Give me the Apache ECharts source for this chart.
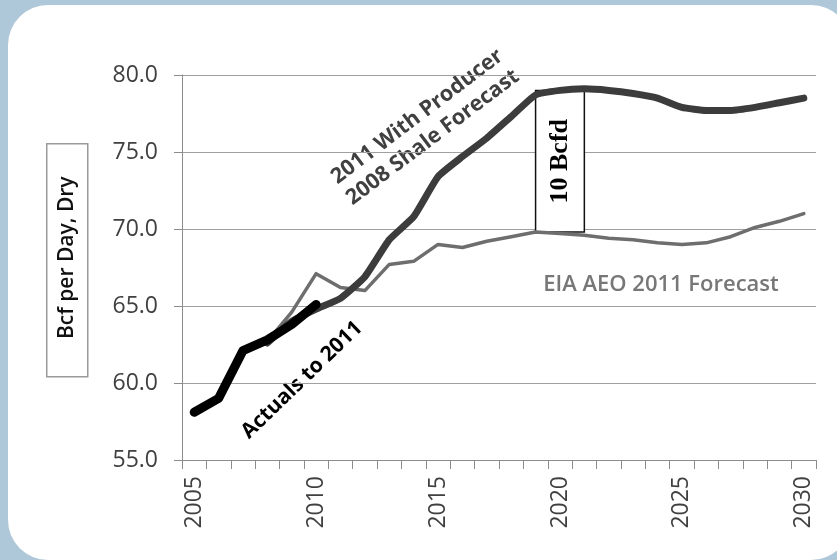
<!DOCTYPE html>
<html>
<head>
<meta charset="utf-8">
<script src="https://cdn.jsdelivr.net/npm/echarts@6/dist/echarts.min.js"></script>
<style>
  html, body { margin: 0; padding: 0; background: #afc8d9; }
  #wrap { position: relative; width: 837px; height: 560px; overflow: hidden; }
  #panel { position: absolute; left: 8px; top: 5px; width: 843px; height: 555px; background: #fff; border-radius: 40px; }
  #main { position: absolute; left: 0; top: 0; width: 837px; height: 560px; }
</style>
</head>
<body>
<div id="wrap">
  <div id="panel"></div>
  <div id="main"></div>
</div>
<script>
// years on the x axis
var years = ["2005", "2006", "2007", "2008", "2009", "2010", "2011", "2012", "2013",
  "2014", "2015", "2016", "2017", "2018", "2019", "2020", "2021", "2022", "2023",
  "2024", "2025", "2026", "2027", "2028", "2029", "2030"];

// Bcf per day, dry
var actuals = [58.1, 59.0, 62.1, 62.8, 63.8, 65.1, null, null, null, null, null, null, null,
  null, null, null, null, null, null, null, null, null, null, null, null, null];
var shaleForecast = [null, null, null, 62.6, 64.0, 64.8, 65.5, 66.9, 69.3, 70.8, 73.4, 74.7,
  75.9, 77.3, 78.7, 79.0, 79.1, 79.0, 78.8, 78.5, 77.9, 77.7, 77.7, 77.9, 78.2, 78.5];
var eiaForecast = [null, null, null, 62.7, 64.6, 67.1, 66.2, 66.0, 67.7, 67.9, 69.0, 68.8,
  69.2, 69.5, 69.8, 69.7, 69.6, 69.4, 69.3, 69.1, 69.0, 69.1, 69.5, 70.1, 70.5, 71.0];

// the "10 Bcfd" gap box
var gapYears = ["2019", "2021"];
var gapRange = [69.8, 79.0];

var yTicks = { min: 55, max: 80, step: 5 };

var chart = echarts.init(document.getElementById("main"));
var font = "'Open Sans', 'Liberation Sans', sans-serif";

var option = {
  backgroundColor: "transparent",
  animation: false,
  grid: { left: 182, right: 21, top: 75, bottom: 100 },
  xAxis: {
    type: "category",
    data: years,
    boundaryGap: true,
    axisLine: { lineStyle: { color: "#8c8c8c", width: 1 } },
    axisTick: { show: true, interval: 0, length: 9, lineStyle: { color: "#8c8c8c" } },
    axisLabel: {
      interval: 4,
      rotate: 90,
      margin: 16,
      color: "#404040",
      fontSize: 23,
      fontFamily: font
    },
    splitLine: { show: false }
  },
  yAxis: {
    type: "value",
    min: yTicks.min,
    max: yTicks.max,
    interval: yTicks.step,
    axisLine: { show: true, lineStyle: { color: "#8c8c8c", width: 1 } },
    axisTick: { show: true, length: 8, lineStyle: { color: "#8c8c8c" } },
    axisLabel: {
      margin: 24,
      color: "#404040",
      fontSize: 23,
      fontFamily: font,
      formatter: function (v) { return v.toFixed(1); }
    },
    splitLine: { lineStyle: { color: "#a0a0a0", width: 1 } }
  },
  series: [
    {
      name: "EIA AEO 2011 Forecast",
      type: "line",
      data: eiaForecast,
      showSymbol: false,
      lineStyle: { color: "#6e6e6e", width: 3.5, cap: "round", join: "round" },
      z: 2
    },
    {
      name: "2011 With Producer 2008 Shale Forecast",
      type: "line",
      data: shaleForecast,
      showSymbol: false,
      smooth: 0.15,
      lineStyle: { color: "#3c3c3c", width: 7, cap: "round", join: "round" },
      markArea: {
        silent: true,
        itemStyle: { color: "#fff", borderColor: "#111", borderWidth: 1.5 },
        label: {
          show: true,
          position: "inside",
          rotate: 90,
          color: "#000",
          fontSize: 26,
          fontWeight: "bold",
          fontFamily: "'Liberation Serif', 'DejaVu Serif', serif",
          formatter: "10 Bcfd"
        },
        data: [[
          { xAxis: gapYears[0], yAxis: gapRange[0] },
          { xAxis: gapYears[1], yAxis: gapRange[1] }
        ]]
      },
      z: 3
    },
    {
      name: "Actuals to 2011",
      type: "line",
      data: actuals,
      showSymbol: false,
      lineStyle: { color: "#000", width: 9, cap: "round", join: "round" },
      z: 4
    }
  ],
  graphic: [
    {
      type: "group",
      left: 46,
      top: 143,
      children: [
        { type: "rect", shape: { x: 0, y: 0, width: 41, height: 233 },
          style: { fill: "#fff", stroke: "#9a9a9a", lineWidth: 1.5 } },
        { type: "text", x: 20.5, y: 114, rotation: Math.PI / 2,
          style: { text: "Bcf per Day, Dry", fill: "#111", font: "600 21px " + font,
            textAlign: "center", textVerticalAlign: "middle" } }
      ]
    },
    {
      type: "text", x: 425, y: 127, rotation: 37 * Math.PI / 180,
      style: { text: "2011 With Producer\n2008 Shale Forecast", fill: "#404040",
        font: "bold 21.5px " + font, textAlign: "center", textVerticalAlign: "middle",
        lineHeight: 26 }
    },
    {
      type: "text", x: 302, y: 380, rotation: 44 * Math.PI / 180,
      style: { text: "Actuals to 2011", fill: "#000", font: "bold 21px " + font,
        textAlign: "center", textVerticalAlign: "middle" }
    },
    {
      type: "text", x: 661, y: 285,
      style: { text: "EIA AEO 2011 Forecast", fill: "#777", font: "600 22px " + font,
        textAlign: "center", textVerticalAlign: "middle" }
    }
  ]
};

chart.setOption(option);
</script>
</body>
</html>
